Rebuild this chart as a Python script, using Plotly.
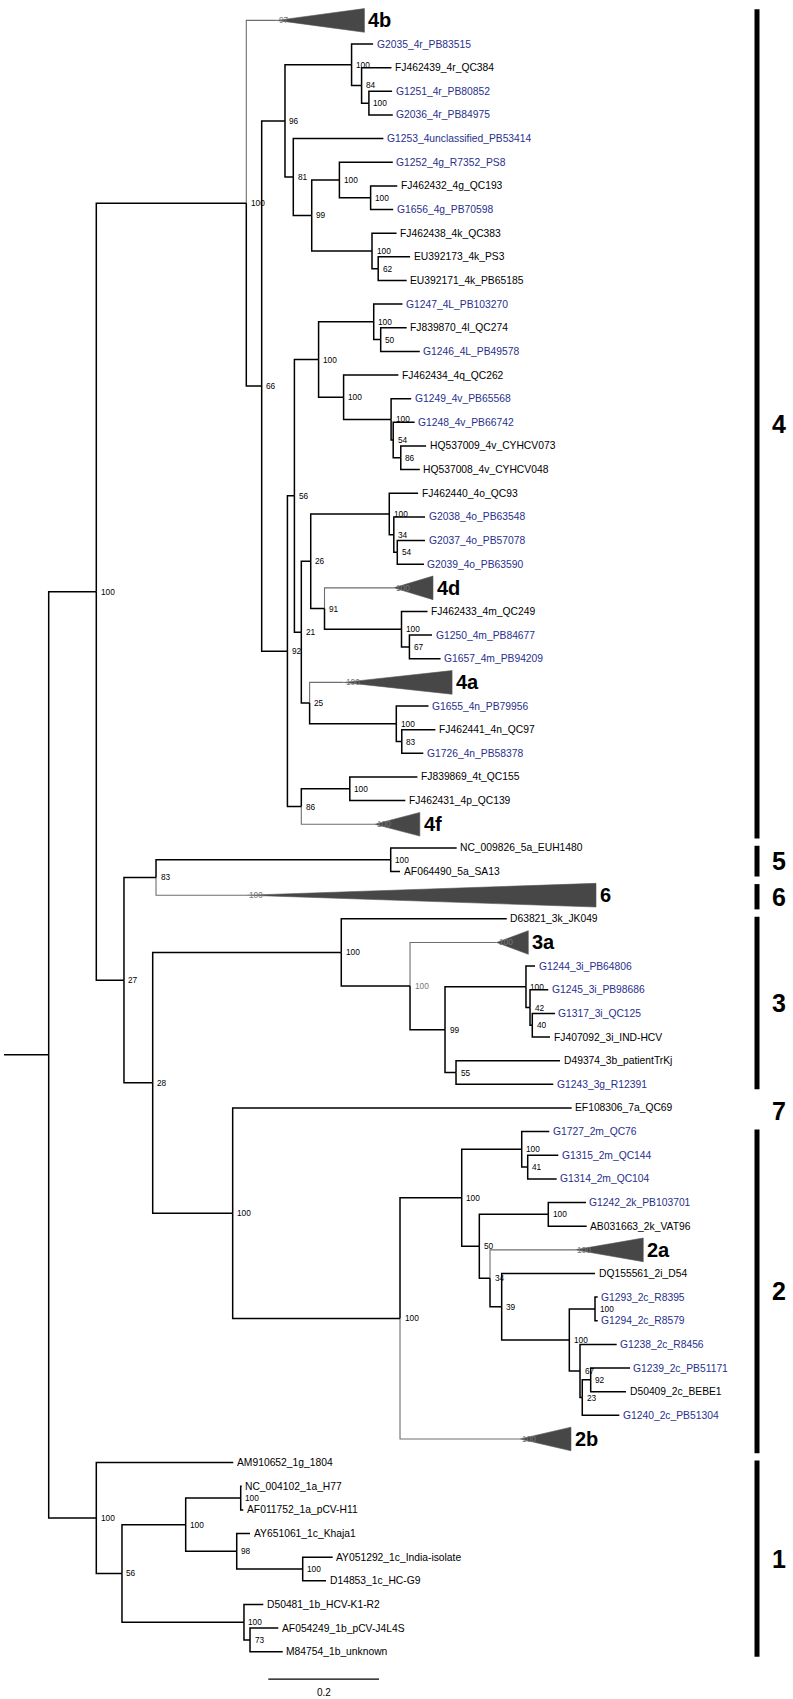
import plotly.graph_objects as go

# ---------------- data: tree (preorder), root-to-node distance, bootstrap ----------------
NODE = [
    "R", "A", "C4", "4b", "N66", "N96", "N100a", "G2035_4r_PB83515", "N84", "FJ462439_4r_QC384",
    "N100b", "G1251_4r_PB80852", "G2036_4r_PB84975", "N81", "G1253_4unclassified_PB53414", "N99",
    "N100c", "G1252_4g_R7352_PS8", "N100d", "FJ462432_4g_QC193", "G1656_4g_PB70598", "N100e",
    "FJ462438_4k_QC383", "N62", "EU392173_4k_PS3", "EU392171_4k_PB65185",
    "N92", "N56", "N100f", "N100g", "G1247_4L_PB103270", "N50", "FJ839870_4l_QC274", "G1246_4L_PB49578",
    "N100h", "FJ462434_4q_QC262", "N100i", "G1249_4v_PB65568", "N54", "G1248_4v_PB66742", "N86b",
    "HQ537009_4v_CYHCV073", "HQ537008_4v_CYHCV048",
    "N21", "N26", "N100j", "FJ462440_4o_QC93", "N34", "G2038_4o_PB63548", "N54b", "G2037_4o_PB57078",
    "G2039_4o_PB63590", "N91", "4d", "N100k", "FJ462433_4m_QC249", "N67", "G1250_4m_PB84677",
    "G1657_4m_PB94209", "N25", "4a", "N100l", "G1655_4n_PB79956", "N83", "FJ462441_4n_QC97",
    "G1726_4n_PB58378", "N86", "N100m", "FJ839869_4t_QC155", "FJ462431_4p_QC139", "4f",
    "N27", "N83b", "N100n", "NC_009826_5a_EUH1480", "AF064490_5a_SA13", "6",
    "N28", "N100o", "D63821_3k_JK049", "N100p", "3a", "N99b", "N100q", "G1244_3i_PB64806", "N42",
    "G1245_3i_PB98686", "N40", "G1317_3i_QC125", "FJ407092_3i_IND-HCV", "N55", "D49374_3b_patientTrKj",
    "G1243_3g_R12391",
    "N100r", "EF108306_7a_QC69", "N100s", "N100t", "N100u", "G1727_2m_QC76", "N41", "G1315_2m_QC144",
    "G1314_2m_QC104", "N50c", "N100v", "G1242_2k_PB103701", "AB031663_2k_VAT96", "N34b", "2a", "N39",
    "DQ155561_2i_D54", "N100w", "N100x", "G1293_2c_R8395", "G1294_2c_R8579", "N67b", "G1238_2c_R8456",
    "N23", "N92b", "G1239_2c_PB51171", "D50409_2c_BEBE1", "G1240_2c_PB51304", "2b",
    "C1", "AM910652_1g_1804", "N56c", "N100y", "N100_1a", "NC_004102_1a_H77", "AF011752_1a_pCV-H11",
    "N98", "AY651061_1c_Khaja1", "N100_1c", "AY051292_1c_India-isolate", "D14853_1c_HC-G9",
    "N100z", "D50481_1b_HCV-K1-R2", "N73", "AF054249_1b_pCV-J4L4S", "M84754_1b_unknown",
]
PARENT = [
    None, "R", "A", "C4", "C4", "N66", "N96", "N100a", "N100a", "N84",
    "N84", "N100b", "N100b", "N96", "N81", "N81",
    "N99", "N100c", "N100c", "N100d", "N100d", "N99",
    "N100e", "N100e", "N62", "N62",
    "N66", "N92", "N56", "N100f", "N100g", "N100g", "N50", "N50",
    "N100f", "N100h", "N100h", "N100i", "N100i", "N54", "N54",
    "N86b", "N86b",
    "N56", "N21", "N26", "N100j", "N100j", "N34", "N34", "N54b",
    "N54b", "N26", "N91", "N91", "N100k", "N100k", "N67",
    "N67", "N21", "N25", "N25", "N100l", "N100l", "N83",
    "N83", "N92", "N86", "N100m", "N100m", "N86",
    "A", "N27", "N83b", "N100n", "N100n", "N83b",
    "N27", "N28", "N100o", "N100o", "N100p", "N100p", "N99b", "N100q", "N100q",
    "N42", "N42", "N40", "N40", "N99b", "N55",
    "N55",
    "N28", "N100r", "N100r", "N100s", "N100t", "N100u", "N100u", "N41",
    "N41", "N100t", "N50c", "N100v", "N100v", "N50c", "N34b", "N34b",
    "N39", "N39", "N100w", "N100x", "N100x", "N100w", "N67b",
    "N67b", "N23", "N92b", "N92b", "N23", "N100s",
    "R", "C1", "C1", "N56c", "N100y", "N100_1a", "N100_1a",
    "N100y", "N98", "N98", "N100_1c", "N100_1c",
    "N56c", "N100z", "N100z", "N73", "N73",
]
DEPTH = [
    0.0, 0.0860, 0.3570, 0.4119, 0.3848, 0.4269, 0.5472, 0.5861, 0.5653, 0.6192,
    0.5785, 0.6204, 0.6217, 0.4419, 0.6047, 0.4752,
    0.5252, 0.6217, 0.5816, 0.6298, 0.6224, 0.5841,
    0.6285, 0.5953, 0.6529, 0.6468,
    0.4313, 0.4439, 0.4876, 0.5872, 0.6392, 0.5998, 0.6468, 0.6705,
    0.5328, 0.6318, 0.6186, 0.6549, 0.6224, 0.6611, 0.6361,
    0.6818, 0.6705,
    0.4564, 0.4734, 0.6153, 0.6674, 0.6235, 0.6799, 0.6298, 0.6799,
    0.6780, 0.4983, 0.6235, 0.6374, 0.6844, 0.6517, 0.6925,
    0.7080, 0.4714, 0.5328, 0.6280, 0.6862, 0.6379, 0.6986,
    0.6768, 0.4564, 0.5440, 0.6661, 0.6443, 0.5892,
    0.1360, 0.1939, 0.6179, 0.7371, 0.6347, 0.3583,
    0.1879, 0.5286, 0.8275, 0.6528, 0.8094, 0.7160, 0.8623, 0.8786, 0.8696,
    0.9026, 0.8737, 0.9147, 0.9057, 0.7359, 0.9238,
    0.9116,
    0.3324, 0.9449, 0.6347, 0.7462, 0.8546, 0.9044, 0.8654, 0.9207,
    0.9178, 0.7780, 0.9026, 0.9707, 0.9720, 0.7973, 0.9509, 0.8184,
    0.9870, 0.9406, 0.9870, 0.9919, 0.9919, 0.9599, 1.0262,
    0.9640, 0.9792, 1.0502, 1.0430, 1.0309, 0.8515,
    0.0860, 0.3335, 0.1324, 0.2475, 0.3469, 0.3487, 0.3516,
    0.3397, 0.3637, 0.4589, 0.5131, 0.5010,
    0.3528, 0.3877, 0.3637, 0.4148, 0.4228,
]
SUPPORT = [
    None, 100, 100, 97, 66, 96, 100, None, 84, None,
    100, None, None, 81, None, 99,
    100, None, 100, None, None, 100,
    None, 62, None, None,
    92, 56, 100, 100, None, 50, None, None,
    100, None, 100, None, 54, None, 86,
    None, None,
    21, 26, 100, None, 34, None, 54, None,
    None, 91, 100, 100, None, 67, None,
    None, 25, 100, 100, None, 83, None,
    None, 86, 100, None, None, 100,
    27, 83, 100, None, None, 100,
    28, 100, None, 100, 100, 99, 100, None, 42,
    None, 40, None, None, 55, None,
    None,
    100, None, 100, 100, 100, None, 41, None,
    None, 50, 100, None, None, 34, 100, 39,
    None, 100, 100, None, None, 67, None,
    23, 92, None, None, None, 100,
    100, None, 56, 100, 100, None, None,
    98, None, 100, None, None,
    100, None, 73, None, None,
]
ROOT_BRANCH = 0.0807

# collapsed clades (drawn as triangles) and the deepest tip inside each
CLADE = ["4b", "4d", "4a", "4f", "6", "3a", "2a", "2b"]
CLADE_MAX_DEPTH = [0.5704, 0.6943, 0.7288, 0.6705, 0.9888, 0.8665, 1.0742, 0.9436]
GRAY_SUPPORT_NODES = ["N100p"]

# genotype brackets on the right
GENOTYPE = ["4", "5", "6", "3", "7", "2", "1"]
GENO_FIRST = ["4b", "NC_009826_5a_EUH1480", "6", "D63821_3k_JK049", "EF108306_7a_QC69",
              "G1727_2m_QC76", "AM910652_1g_1804"]
GENO_LAST = ["4f", "AF064490_5a_SA13", "6", "G1243_3g_R12391", "EF108306_7a_QC69",
             "2b", "M84754_1b_unknown"]
GENO_BAR = [True, True, True, True, False, True, True]

SCALE_LEN = 0.2
SCALE_LABEL = "0.2"

# ---------------- layout constants ----------------
W, H = 793, 1699
PX_PER_UNIT = 553.5
ROOT_PX = 48.7
ROW0_PX = 20.4
ROW_PX = 23.643
BLUE = "#28308c"
FONT = "Liberation Sans, Arial, Helvetica, sans-serif"

# ---------------- tree layout ----------------
children = {n: [] for n in NODE}
for n, p in zip(NODE, PARENT):
    if p is not None:
        children[p].append(n)
depth = dict(zip(NODE, DEPTH))
support = dict(zip(NODE, SUPPORT))
clade_edge = dict(zip(CLADE, CLADE_MAX_DEPTH))
ypos = {}
counter = [0]


def layout(n):
    if not children[n]:
        ypos[n] = counter[0]
        counter[0] += 1
    else:
        for c in children[n]:
            layout(c)
        ypos[n] = (ypos[children[n][0]] + ypos[children[n][-1]]) / 2.0


layout("R")
n_rows = counter[0]

fig = go.Figure()

# branches
bx, by, gx, gy = [], [], [], []
for n, p in zip(NODE, PARENT):
    if p is None:
        continue
    xs = [depth[p], depth[p], depth[n], None]
    ys = [ypos[p], ypos[n], ypos[n], None]
    if n in clade_edge:
        gx += xs
        gy += ys
    else:
        bx += xs
        by += ys
bx += [-ROOT_BRANCH, 0.0, None]
by += [ypos["R"], ypos["R"], None]

fig.add_trace(go.Scatter(x=gx, y=gy, mode="lines", line=dict(color="#6e6e6e", width=1.1),
                         hoverinfo="skip", showlegend=False))
fig.add_trace(go.Scatter(x=bx, y=by, mode="lines", line=dict(color="black", width=1.5),
                         hoverinfo="skip", showlegend=False))

# collapsed clade triangles
for c in CLADE:
    x0, x1, yc = depth[c], clade_edge[c], ypos[c]
    fig.add_trace(go.Scatter(x=[x0, x1, x1, x0], y=[yc, yc - 0.5, yc + 0.5, yc],
                             mode="lines", fill="toself", fillcolor="#474747",
                             line=dict(color="#555555", width=0.6),
                             hoverinfo="skip", showlegend=False))

annotations = []
# leaf labels
for n in NODE:
    if children[n] or n in clade_edge:
        continue
    annotations.append(dict(x=depth[n], y=ypos[n], text=n, showarrow=False, xanchor="left",
                            yanchor="middle", xshift=1.5,
                            font=dict(family=FONT, size=10.3, color=BLUE if n.startswith("G") else "black")))
# clade labels
for c in CLADE:
    annotations.append(dict(x=clade_edge[c], y=ypos[c], text="<b>%s</b>" % c, showarrow=False,
                            xanchor="left", yanchor="middle", xshift=2,
                            font=dict(family=FONT, size=20, color="black")))
# bootstrap labels
for n in NODE:
    s = support[n]
    if s is None:
        continue
    gray = (n in clade_edge) or (n in GRAY_SUPPORT_NODES)
    annotations.append(dict(x=depth[n], y=ypos[n], text=str(s), showarrow=False, xanchor="left",
                            yanchor="middle", xshift=(0 if n in clade_edge else 2.5),
                            font=dict(family=FONT, size=8.3, color="#777777" if gray else "black")))

# genotype brackets
shapes = []
bar_x = 757.0 / W
lab_x = 779.0 / W
for g, f, l, has_bar in zip(GENOTYPE, GENO_FIRST, GENO_LAST, GENO_BAR):
    top = ypos[f] - (0.47 if f in clade_edge else 0.09)
    bot = ypos[l] + (0.6 if l in clade_edge else 0.21)
    if has_bar:
        shapes.append(dict(type="line", xref="paper", yref="y", x0=bar_x, x1=bar_x, y0=top, y1=bot,
                           line=dict(color="black", width=5)))
        ymid = (top + bot) / 2.0
    else:
        ymid = ypos[f] + 0.12
    annotations.append(dict(xref="paper", yref="y", x=lab_x, y=ymid, text="<b>%s</b>" % g,
                            showarrow=False, xanchor="center", yanchor="middle",
                            font=dict(family=FONT, size=25, color="black")))

# scale bar
sb_x0 = (268.3 - ROOT_PX) / PX_PER_UNIT
sb_y = n_rows - 1 + 1.16
shapes.append(dict(type="line", xref="x", yref="y", x0=sb_x0, x1=sb_x0 + SCALE_LEN, y0=sb_y, y1=sb_y,
                   line=dict(color="black", width=1.3)))
annotations.append(dict(x=sb_x0 + SCALE_LEN / 2, y=sb_y + 0.55, text=SCALE_LABEL, showarrow=False,
                        xanchor="center", yanchor="middle", font=dict(family=FONT, size=10, color="black")))

fig.update_layout(
    width=W, height=H, margin=dict(l=0, r=0, t=0, b=0),
    paper_bgcolor="white", plot_bgcolor="white",
    xaxis=dict(range=[-ROOT_PX / PX_PER_UNIT, (W - ROOT_PX) / PX_PER_UNIT], visible=False, fixedrange=True),
    yaxis=dict(range=[(H - ROW0_PX) / ROW_PX, -ROW0_PX / ROW_PX], visible=False, fixedrange=True),
    annotations=annotations, shapes=shapes, showlegend=False,
)
fig.write_html(
    "out.html",
    config={"displayModeBar": False},
    post_script="document.body.style.margin='0';document.body.style.padding='0';"
                "document.documentElement.style.overflow='hidden';",
)
